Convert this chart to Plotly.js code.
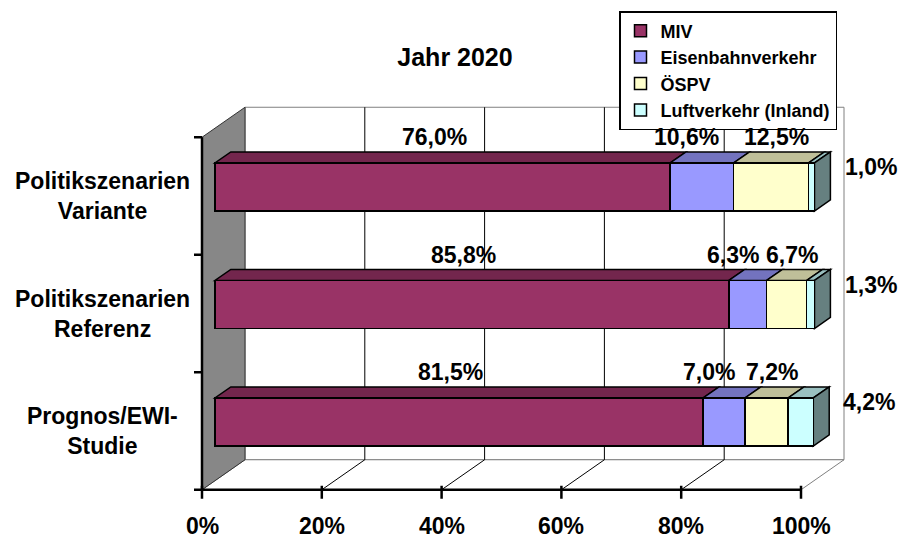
<!DOCTYPE html>
<html>
<head>
<meta charset="utf-8">
<script src="https://cdn.plot.ly/plotly-3.0.1.min.js"></script>
<style>html,body{margin:0;padding:0;background:#fff;}#chart{width:902px;height:538px;}</style>
</head>
<body>
<div id="chart"></div>
<script>
// ---- data ----
const categories = ['Prognos/EWI-<br>Studie', 'Politikszenarien<br>Referenz', 'Politikszenarien<br>Variante'];
const seriesNames = ['MIV', 'Eisenbahnverkehr', 'ÖSPV', 'Luftverkehr (Inland)'];
const miv   = [81.5, 85.8, 76.0];
const bahn  = [7.0, 6.3, 10.6];
const oespv = [7.2, 6.7, 12.5];
const luft  = [4.2, 1.3, 1.0];
const xTickVals = [0, 20, 40, 60, 80, 100];
const xTickText = ['0%', '20%', '40%', '60%', '80%', '100%'];
const titleText = 'Jahr 2020';

// ---- styling / geometry ----
const frontColors = ['#993366', '#9999ff', '#ffffcc', '#ccffff'];
const topColors   = ['#73264d', '#7373bf', '#bfbf99', '#99bfbf'];
const sideColors  = ['#4d1a33', '#4d4d80', '#808066', '#668080'];
const FONT = 'Liberation Sans, Arial, sans-serif';
const FS = 23;
const W = 902, H = 538;
const S = 5.99;          // px per percent
const CATPX = 117.5;     // px per category
const FX0 = 202, FY0 = 431; // front plane: 0% and category 0 centre
const DX = 43, DY = 30;  // depth vector (px right, px up)
const D0 = 0.3, D1 = 0.67; // bar depth span
const BARH = 48 / CATPX;
const hw = BARH / 2;

const plane0x = FX0 + D0 * DX, plane0y = FY0 - D0 * DY;
const xRange = [(0 - plane0x) / S, (W - plane0x) / S];
const yRange = [(plane0y - H) / CATPX, plane0y / CATPX];

function P(v, c, d) { return [v + (d - D0) * DX / S, c + (d - D0) * DY / CATPX]; }
function pathOf(pts) { return 'M' + pts.map(p => p[0].toFixed(4) + ',' + p[1].toFixed(4)).join('L') + 'Z'; }
function lineOf(a, b) { return 'M' + a[0].toFixed(4) + ',' + a[1].toFixed(4) + 'L' + b[0].toFixed(4) + ',' + b[1].toFixed(4); }

const cMin = -0.5, cMax = categories.length - 0.5;
const vMax = xTickVals[xTickVals.length - 1];
const shapes = [];
function addPoly(pts, fill, lc, lw) {
  shapes.push({type: 'path', xref: 'x', yref: 'y', layer: 'below', path: pathOf(pts), fillcolor: fill, line: {color: lc, width: lw}});
}
function addLine(a, b, lc, lw) {
  shapes.push({type: 'path', xref: 'x', yref: 'y', layer: 'below', path: lineOf(a, b), line: {color: lc, width: lw}});
}
// back wall
addPoly([P(0, cMin, 1), P(vMax, cMin, 1), P(vMax, cMax, 1), P(0, cMax, 1)], '#ffffff', '#808080', 1);
// floor
addPoly([P(0, cMin, 0), P(vMax, cMin, 0), P(vMax, cMin, 1), P(0, cMin, 1)], '#ffffff', '#808080', 1);
// left wall
addPoly([P(0, cMin, 0), P(0, cMin, 1), P(0, cMax, 1), P(0, cMax, 0)], '#878787', '#333333', 1);
// gridlines
xTickVals.forEach(v => {
  if (v > 0 && v < vMax) {
    addLine(P(v, cMin, 1), P(v, cMax, 1), '#000000', 1);
    addLine(P(v, cMin, 0), P(v, cMin, 1), '#000000', 1);
  }
});
// axes lines and ticks
addLine(P(0, cMin, 0), P(vMax, cMin, 0), '#000000', 2.5);
addLine(P(0, cMin, 0), P(0, cMax, 0), '#000000', 2.5);
xTickVals.forEach(v => {
  const p = P(v, cMin, 0);
  addLine([p[0], p[1] + 4 / CATPX], [p[0], p[1] - 9 / CATPX], '#000000', 2.5);
});
for (let c = cMin; c <= cMax + 1e-9; c += 1) {
  const p = P(0, c, 0);
  addLine(p, [p[0] - 8 / S, p[1]], '#000000', 2.5);
}

// bar 3D faces (top + right side)
const allSeries = [miv, bahn, oespv, luft];
const yIdx = categories.map((_, i) => i);
yIdx.forEach(i => {
  let acc = 0;
  allSeries.forEach((arr, s) => {
    const a = acc, b = acc + arr[i];
    addPoly([P(a, i + hw, D0), P(b, i + hw, D0), P(b, i + hw, D1), P(a, i + hw, D1)], topColors[s], '#000000', 1.5);
    acc = b;
  });
  const last = allSeries.length - 1;
  addPoly([P(acc, i - hw, D0), P(acc, i + hw, D0), P(acc, i + hw, D1), P(acc, i - hw, D1)], sideColors[last], '#000000', 1.5);
});

// traces
const traces = allSeries.map((arr, s) => ({
  type: 'bar', orientation: 'h', name: seriesNames[s],
  x: arr, y: yIdx, width: BARH,
  marker: {color: frontColors[s], line: {color: '#000000', width: 1.5}},
  hoverinfo: 'skip'
}));

// annotations
const fmt = v => v.toFixed(1).replace('.', ',') + '%';
const annotations = [];
xTickVals.forEach((v, k) => {
  const p = P(v, cMin, 0);
  annotations.push({x: p[0], y: p[1], xref: 'x', yref: 'y', text: '<b>' + xTickText[k] + '</b>', showarrow: false,
    yshift: -36, xanchor: 'center', yanchor: 'middle', font: {family: FONT, size: FS, color: '#000'}});
});
categories.forEach((cat, i) => {
  const p = P(0, i, 0);
  annotations.push({x: p[0], y: p[1], xref: 'x', yref: 'y', text: '<b>' + cat + '</b>', showarrow: false,
    xshift: -100, xanchor: 'center', yanchor: 'middle', align: 'center', font: {family: FONT, size: FS, color: '#000'}});
});
const labelXShift = [-8, -15, 5];
yIdx.forEach(i => {
  let acc = 0;
  allSeries.forEach((arr, s) => {
    const a = acc, b = acc + arr[i];
    if (s < allSeries.length - 1) {
      annotations.push({x: (a + b) / 2, y: i, xref: 'x', yref: 'y', text: '<b>' + fmt(arr[i]) + '</b>', showarrow: false,
        xshift: labelXShift[s], yshift: 50, xanchor: 'center', yanchor: 'middle', font: {family: FONT, size: FS, color: '#000'}});
    } else {
      annotations.push({x: b, y: i, xref: 'x', yref: 'y', text: '<b>' + fmt(arr[i]) + '</b>', showarrow: false,
        xshift: 28, yshift: 20, xanchor: 'left', yanchor: 'middle', font: {family: FONT, size: FS, color: '#000'}});
    }
    acc = b;
  });
});

const layout = {
  width: W, height: H, autosize: false,
  margin: {l: 0, r: 0, t: 0, b: 0, pad: 0},
  paper_bgcolor: '#ffffff', plot_bgcolor: 'rgba(0,0,0,0)',
  barmode: 'stack', bargap: 0,
  title: {text: '<b>' + titleText + '</b>', x: 455 / W, xanchor: 'center', y: 1 - 57 / H, yanchor: 'middle',
    xref: 'paper', yref: 'container', font: {family: FONT, size: 25, color: '#000'}},
  xaxis: {range: xRange, visible: false, fixedrange: true},
  yaxis: {range: yRange, visible: false, fixedrange: true},
  showlegend: true,
  legend: {x: 619 / W, y: 1 - 11 / H, xanchor: 'left', yanchor: 'top', traceorder: 'normal',
    bordercolor: '#000', borderwidth: 1.5, bgcolor: '#fff',
    font: {family: FONT, size: 18, color: '#000', weight: 'bold'}, tracegroupgap: 0},
  shapes: shapes,
  annotations: annotations
};

Plotly.newPlot('chart', traces, layout, {displayModeBar: false, staticPlot: true});
</script>
</body>
</html>
